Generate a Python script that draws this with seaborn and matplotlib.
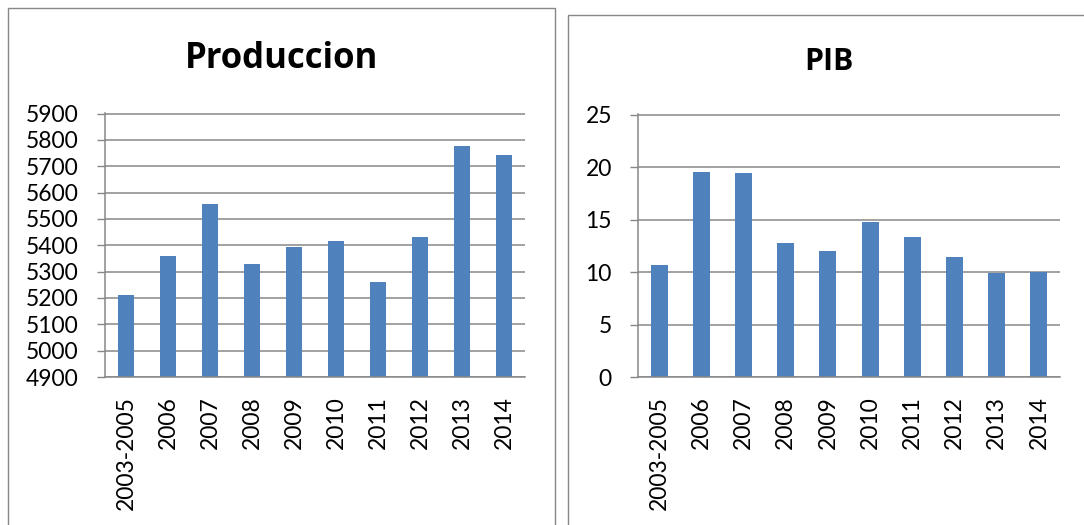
import numpy as np
import matplotlib
matplotlib.use("Agg")
import matplotlib.pyplot as plt
import seaborn as sns
from matplotlib.patches import Rectangle

categories = ["2003-2005", "2006", "2007", "2008", "2009", "2010", "2011", "2012", "2013", "2014"]
produccion = [5210, 5360, 5555, 5327, 5393, 5418, 5262, 5433, 5775, 5743]
pib = [10.66, 19.49, 19.40, 12.75, 11.96, 14.78, 13.29, 11.39, 9.87, 10.0]
prod_ticks = [4900, 5000, 5100, 5200, 5300, 5400, 5500, 5600, 5700, 5800, 5900]
pib_ticks = [0, 5, 10, 15, 20, 25]
titles = ["Produccion", "PIB"]

sns.set_theme(style="white")
plt.rcParams['font.family'] = ['Lato', 'DejaVu Sans']

W, H = 1084, 525
fig = plt.figure(figsize=(W / 100, H / 100), dpi=100)
fig.patch.set_facecolor("white")

GRAY = "#878787"
BLUE = "#4F81BD"


def px_axes(x0, x1, y0, y1):
    return fig.add_axes([x0 / W, 1 - y1 / H, (x1 - x0) / W, (y1 - y0) / H])


def style(ax, ticks):
    span = ticks[-1] - ticks[0]
    ax.set_ylim(ticks[0], ticks[-1] + span * 0.002)
    ax.set_yticks(ticks)
    ax.set_yticklabels([str(t) for t in ticks])
    n = len(categories)
    ax.set_xlim(-0.5, n - 0.5)
    ax.set_xticks(range(n))
    ax.set_xticklabels(categories, rotation=90, ha='center', va='top')
    ax.set_xticks(np.arange(-0.5, n, 1), minor=True)
    ax.tick_params(axis='x', which='major', length=0, pad=14, labelsize=16.5, labelcolor='black')
    ax.tick_params(axis='x', which='minor', length=5.8, width=1.0, color=GRAY, direction='out')
    ax.tick_params(axis='y', which='major', length=5.8, width=1.0, color=GRAY, direction='out',
                   pad=13, labelsize=16.5, labelcolor='black', left=True)
    ax.grid(axis='y', color=GRAY, lw=1.1)
    ax.grid(axis='x', visible=False)
    ax.set_axisbelow(True)
    for s in ['top', 'right']:
        ax.spines[s].set_visible(False)
    for s in ['left', 'bottom']:
        ax.spines[s].set_color(GRAY)
        ax.spines[s].set_linewidth(1.1)
    ax.set_xlabel('')
    ax.set_ylabel('')
    ax.set_facecolor('white')


ax1 = px_axes(105, 525, 113, 377)
sns.barplot(x=categories, y=produccion, color=BLUE, saturation=1, width=0.4, linewidth=0, ax=ax1)
style(ax1, prod_ticks)

ax2 = px_axes(638, 1060, 114, 377)
sns.barplot(x=categories, y=pib, color=BLUE, saturation=1, width=0.4, linewidth=0, ax=ax2)
style(ax2, pib_ticks)

# chart frames
fig.patches.append(Rectangle((8 / W, -0.05), (555 - 8) / W, 1.05 - 7.5 / H,
                             transform=fig.transFigure, fill=False, edgecolor=GRAY, lw=1.0))
fig.patches.append(Rectangle((568 / W, -0.05), 1.1 - 568 / W, 1.05 - 14.7 / H,
                             transform=fig.transFigure, fill=False, edgecolor=GRAY, lw=1.0))

fig.text(282 / W, 1 - 67.5 / H, titles[0], fontsize=25, fontweight='bold',
         family=['Open Sans', 'DejaVu Sans'],
         ha='center', va='baseline', color='black')
fig.text(829 / W, 1 - 70 / H, titles[1], fontsize=21.8, fontweight='bold',
         family=['Open Sans', 'DejaVu Sans'],
         ha='center', va='baseline', color='black')

fig.savefig("out.png", dpi=100, facecolor='white')
